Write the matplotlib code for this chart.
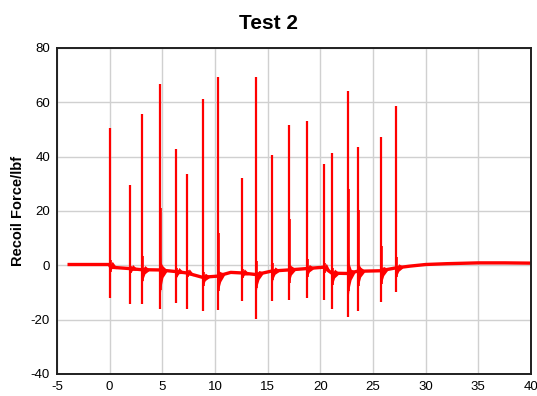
import matplotlib
matplotlib.use("Agg")
import matplotlib.pyplot as plt
import numpy as np

plt.rcParams['font.family'] = ['Liberation Sans', 'DejaVu Sans']
plt.rcParams['axes.unicode_minus'] = False

# Shot events (time in s, peak and trough force in lbf)
shot_t = [0.0, 1.93, 3.1, 4.81, 6.33, 7.31, 8.83, 10.29, 12.54, 13.93,
          15.45, 17.0, 18.71, 20.32, 21.11, 22.67, 23.58, 25.77, 27.2]
shot_peak = [50.5, 29.7, 55.8, 66.8, 42.9, 33.7, 61.3, 69.2, 32.0, 69.5,
             40.7, 51.8, 53.3, 37.3, 41.5, 64.1, 43.5, 47.3, 58.5]
shot_trough = [-12.2, -14.2, -14.2, -16.2, -13.9, -16.2, -16.9, -16.4, -13.0, -19.7,
               -13.3, -12.7, -12.0, -12.8, -16.2, -19.2, -16.7, -13.6, -9.9]
# Ringing after each shot (upper / lower envelope just after the shot)
ring_hi = [2.0, 1.0, 5.0, 23.0, 1.5, 1.0, 2.0, 15.8, 1.5, 5.0,
           3.0, 18.9, 3.6, 1.5, 2.0, 31.2, 22.6, 9.0, 4.0]
ring_lo = [-3.0, -2.0, -5.0, -9.0, -2.5, -2.0, -4.0, -7.0, -2.5, -6.0,
           -4.0, -6.0, -4.0, -2.5, -5.6, -8.0, -7.0, -6.0, -4.0]

# Baseline drift of the trace
base_t = [-4.0, -0.05, 0.1, 1.9, 3.0, 4.7, 6.3, 7.3, 8.8, 10.2, 11.5, 12.5, 13.9,
          15.4, 17.0, 18.7, 20.3, 21.1, 22.6, 23.5, 25.7, 27.1, 28.5, 30.0, 32.0,
          35.0, 37.5, 40.0]
base_v = [0.3, 0.3, -0.7, -1.2, -1.6, -1.7, -2.3, -2.8, -4.4, -4.0, -2.6, -2.8, -3.4,
          -2.1, -1.7, -1.2, -0.7, -2.9, -3.0, -2.2, -2.0, -1.0, -0.3, 0.3, 0.6,
          0.9, 0.9, 0.8]

fig = plt.figure(figsize=(5.37, 3.96), dpi=100)
ax = fig.add_axes([0.1061, 0.0556, 0.8827, 0.8232])

ax.set_xlim(-5, 40)
ax.set_ylim(-40, 80)
ax.set_xticks(range(-5, 41, 5))
ax.set_yticks(range(-40, 81, 20))
ax.grid(True, color='#d0d0d0', linewidth=1.0)
ax.set_axisbelow(True)
ax.tick_params(length=0, labelsize=9.5, pad=5)
for s in ax.spines.values():
    s.set_linewidth(1.4)
    s.set_color('#202020')

red = '#ff0000'
ax.plot(base_t, base_v, color=red, linewidth=2.4, solid_capstyle='butt')

bt = np.array(base_t)
bv = np.array(base_v)
for t, pk, tr, hi, lo in zip(shot_t, shot_peak, shot_trough, ring_hi, ring_lo):
    b = np.interp(t, bt, bv)
    ax.vlines(t, tr, pk, color=red, linewidth=1.6)
    # ringing envelope
    b2 = np.interp(t + 0.6, bt, bv)
    rt = [t, t + 0.06, t + 0.25, t + 0.6]
    ax.fill_between(rt, [b + lo, b + lo * 0.7, b + lo * 0.3, b2 - 0.4],
                    [b + hi * 0.3, b + hi * 0.12, b + 1.5, b2 + 0.4],
                    color=red, linewidth=0)
    ax.vlines(t + 0.1, b + lo * 0.8, b + hi, color=red, linewidth=1.2)

ax.set_ylabel('Recoil Force/lbf', fontsize=10.5, fontweight='bold', labelpad=4)
fig.suptitle('Test 2', fontsize=15, fontweight='bold', y=0.965)

fig.savefig('out.png', dpi=100)
